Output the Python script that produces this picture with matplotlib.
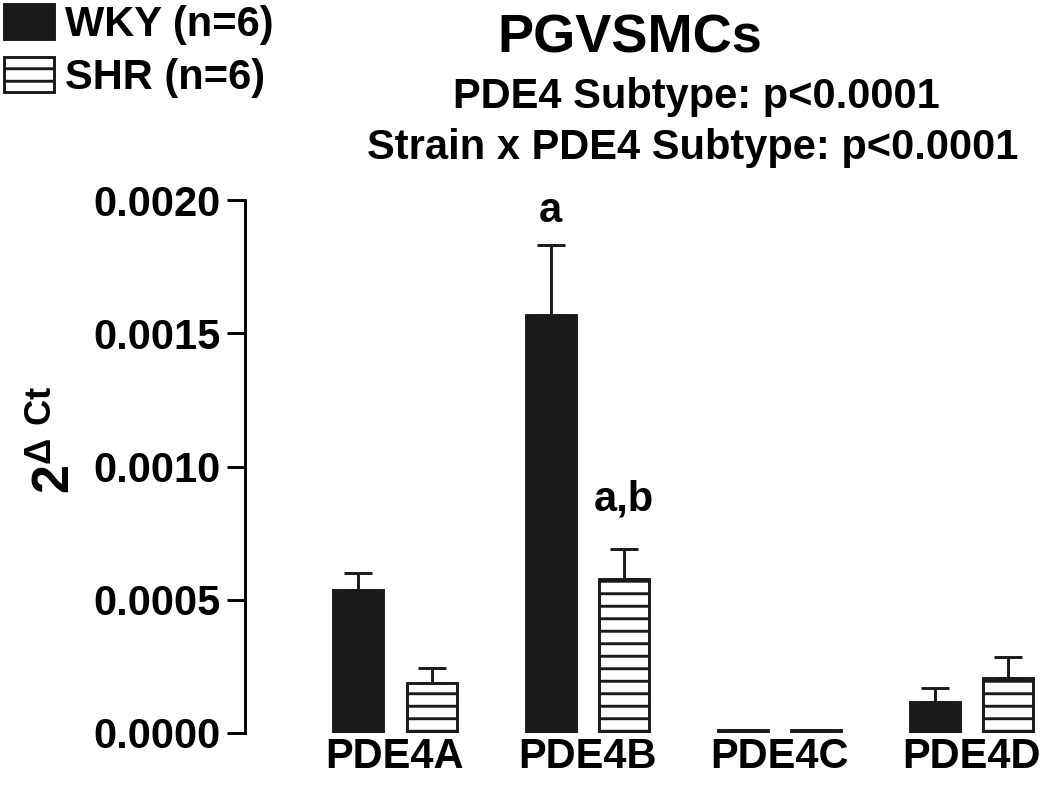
import numpy as np
import matplotlib.pyplot as plt

plt.rcParams['font.family'] = ['Liberation Sans', 'DejaVu Sans']
plt.rcParams['font.weight'] = 'bold'
plt.rcParams['mathtext.fontset'] = 'custom'
plt.rcParams['mathtext.bf'] = 'Liberation Sans:bold'
plt.rcParams['mathtext.rm'] = 'Liberation Sans:bold'
plt.rcParams['hatch.linewidth'] = 1.4

# данные
subtypes = ['PDE4A', 'PDE4B', 'PDE4C', 'PDE4D']
wky_mean = [0.000535, 0.001567, 0.00001, 0.000115]
wky_sem = [0.000065, 0.000263, 0.0, 0.000055]
shr_mean = [0.000187, 0.000577, 0.00001, 0.000206]
shr_sem = [0.000058, 0.000113, 0.0, 0.000078]
wky_label = 'WKY (n=6)'
shr_label = 'SHR (n=6)'

x = np.arange(len(subtypes))
w = 0.26
off = 0.19

fig = plt.figure(figsize=(7, 811 / 150), dpi=150)
ax = fig.add_axes([245 / 1050, 1 - 733 / 811, 800 / 1050, 533 / 811])

err_kw = dict(elinewidth=1.4, capthick=1.4, capsize=6.5, ecolor='#1a1a1a')
b1 = ax.bar(x - off, wky_mean, w, yerr=[np.zeros(4), wky_sem], color='#1a1a1a',
            edgecolor='#1a1a1a', linewidth=1.4, error_kw=err_kw, label=wky_label)
b2 = ax.bar(x + off, shr_mean, w, yerr=[np.zeros(4), shr_sem], color='white',
            edgecolor='#1a1a1a', linewidth=1.4, hatch='--', error_kw=err_kw, label=shr_label)

# буквы значимости
ax.annotate('a', (x[1] - off, wky_mean[1] + wky_sem[1]), xytext=(0, 7),
            textcoords='offset points', ha='center', va='bottom', fontsize=20, fontweight='bold')
ax.annotate('a,b', (x[1] + off, shr_mean[1] + shr_sem[1]), xytext=(0, 14),
            textcoords='offset points', ha='center', va='bottom', fontsize=20, fontweight='bold')

ax.set_xlim(-0.78, 3.38)
ax.set_ylim(0, 0.002)
ax.set_yticks([0, 0.0005, 0.001, 0.0015, 0.002])
ax.set_yticklabels(['0.0000', '0.0005', '0.0010', '0.0015', '0.0020'])
ax.set_xticks(x)
ax.set_xticklabels(subtypes)
ax.tick_params(axis='y', length=8.6, width=1.4, pad=3, labelsize=20)
ax.tick_params(axis='x', length=0, pad=2, labelsize=20)
for s in ['top', 'right', 'bottom']:
    ax.spines[s].set_visible(False)
ax.spines['left'].set_linewidth(1.4)

ax.set_ylabel(r'$\mathbf{2^{\Delta\ Ct}}$', fontsize=25)
ax.yaxis.set_label_coords(-0.205, 0.55)

fig.text(0.6, 0.953, 'PGVSMCs', ha='center', va='center', fontsize=26, fontweight='bold')
fig.text(0.663, 0.880, 'PDE4 Subtype: p<0.0001', ha='center', va='center', fontsize=20, fontweight='bold')
fig.text(0.66, 0.8175, 'Strain x PDE4 Subtype: p<0.0001', ha='center', va='center', fontsize=20, fontweight='bold')

fig.legend(handles=[b1, b2], loc='upper left', bbox_to_anchor=(0.0, 1.0), frameon=False,
           fontsize=20, handlelength=1.2, handleheight=0.9, handletextpad=0.25,
           labelspacing=0.3, borderaxespad=0.0, borderpad=0.1)

plt.savefig('out.png', dpi=150)
